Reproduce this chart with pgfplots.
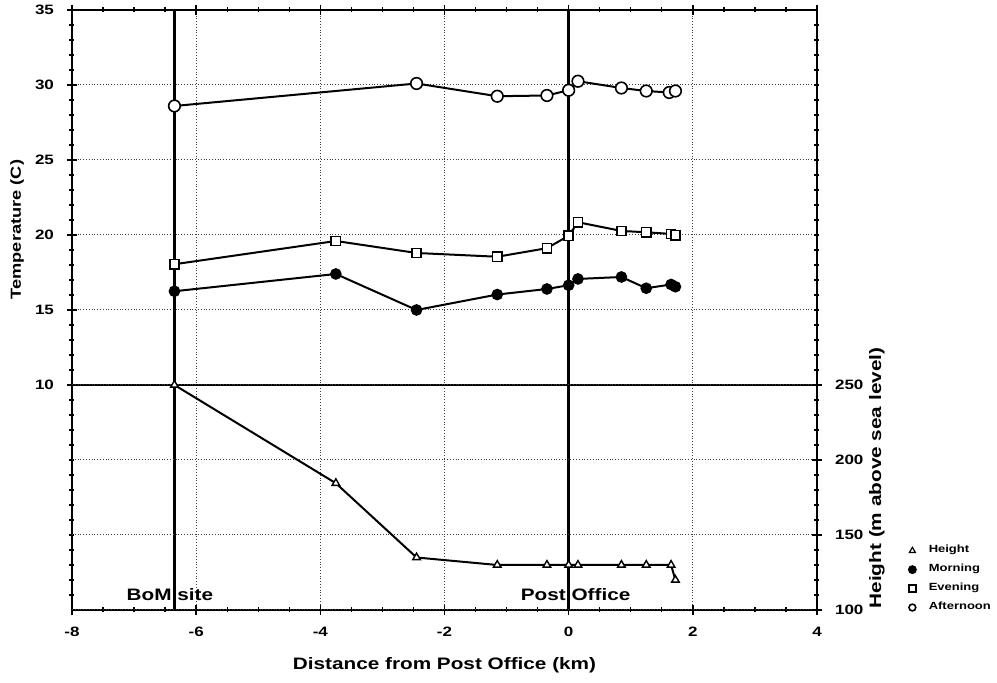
\documentclass[border=0pt]{standalone}
\usepackage{fontspec}
\setmainfont{Liberation Sans}[FakeStretch=1.25]
\usepackage{pgfplots}
\pgfplotsset{compat=1.18}
\begin{document}
\begin{tikzpicture}
\useasboundingbox (-36pt,-36.5pt) rectangle (462.5pt,305pt);
\pgfplotsset{
  common/.style={
    scale only axis, width=372.5pt, height=300pt,
    xmin=-8, xmax=4,
    tick align=center, major tick length=5pt, minor tick length=2.5pt,
    grid style={densely dotted, line width=0.5pt, black!75},
    axis line style={line width=0.9pt},
    every tick/.style={black, line width=0.7pt},
    /pgf/number format/assume math mode=true,
    ticklabel style={font=\bfseries\fontsize{6.8}{8}\selectfont},
  },
}
\begin{axis}[
  common,
  ymin=-5, ymax=35,
  xtick={-8,-6,...,4}, ytick={10,15,...,35},
  minor x tick num=3, minor ytick={-4,-3,...,34},
  ytick pos=left,
  grid=major,
  xticklabel style={yshift=-2.5pt},
  yticklabel style={xshift=-3pt},
  xlabel={Distance from Post Office (km)},
  xlabel style={font=\bfseries\fontsize{8.3}{10}\selectfont, at={([yshift=-27.5pt]axis description cs:0.5,0)}, anchor=center},
  ylabel={Temperature (C)},
  ylabel style={font=\bfseries\fontsize{7.3}{9}\selectfont, at={([xshift=-27.5pt]axis description cs:0,0.634)}, anchor=center},
  legend image code/.code={\draw[#1, only marks, mark size=1.7pt] plot coordinates {(0.12cm,0cm)}; \path (0cm,0cm) (0.32cm,0cm);},
  legend style={draw=none, fill=none, font=\bfseries\fontsize{5.2}{6}\selectfont,
    at={(axis description cs:1.117,-0.012)}, anchor=south west, row sep=0.2pt,
    inner sep=0pt, cells={anchor=west}},
]
% reference lines
\addplot[line width=1.2pt, forget plot] coordinates {(-6.35,-5) (-6.35,35)};
\addplot[line width=1.2pt, forget plot] coordinates {(0,-5) (0,35)};
\addplot[line width=1.2pt, forget plot] coordinates {(-8,10) (4,10)};

\addlegendimage{mark=triangle, mark options={line width=0.6pt}}
\addlegendentry{Height}
% Morning
\addplot[line width=1pt, mark=*, mark size=2.4pt, mark options={fill=black}] coordinates {
(-6.35,16.25) (-3.75,17.4) (-2.45,15.0) (-1.15,16.03) (-0.35,16.4) (0.0,16.65)
(0.15,17.07) (0.85,17.2) (1.25,16.45) (1.65,16.7) (1.72,16.55)};
\addlegendentry{Morning}
% Evening
\addplot[line width=1pt, mark=square*, mark size=2.3pt, mark options={fill=white, line width=0.8pt}] coordinates {
(-6.35,18.05) (-3.75,19.6) (-2.45,18.8) (-1.15,18.55) (-0.35,19.12) (0.0,19.95)
(0.15,20.85) (0.85,20.27) (1.25,20.18) (1.65,20.07) (1.72,19.98)};
\addlegendentry{Evening}
% Afternoon
\addplot[line width=1pt, mark=*, mark size=2.9pt, mark options={fill=white, line width=0.8pt}] coordinates {
(-6.35,28.6) (-2.45,30.1) (-1.15,29.25) (-0.35,29.3) (0.0,29.65) (0.15,30.25)
(0.85,29.8) (1.25,29.6) (1.62,29.5) (1.72,29.6)};
\addlegendentry{Afternoon}

\node[font=\bfseries\fontsize{8.3}{10}\selectfont, xshift=-2.3pt] at (axis cs:-6.35,-4) {BoM site};
\node[font=\bfseries\fontsize{8.3}{10}\selectfont, xshift=3.5pt] at (axis cs:0,-4) {Post Office};
\end{axis}

\begin{axis}[
  common,
  ymin=100, ymax=500,
  axis y line*=right, axis x line=none,
  ytick={100,150,200,250}, minor ytick={110,120,...,490},
  ymajorgrids,
  yticklabel style={xshift=3pt},
  ylabel={Height (m above sea level)},
  ylabel style={font=\bfseries\fontsize{8.3}{10}\selectfont, at={([xshift=30pt]axis description cs:1,0.22)}, anchor=center},
]
\addplot[line width=1pt, mark=triangle*, mark size=2.2pt, mark options={fill=white, line width=0.7pt}] coordinates {
(-6.35,250) (-3.75,184.5) (-2.45,135) (-1.15,130) (-0.35,130) (0.0,130)
(0.15,130) (0.85,130) (1.25,130) (1.65,130) (1.72,120)};
\end{axis}
\end{tikzpicture}
\end{document}
